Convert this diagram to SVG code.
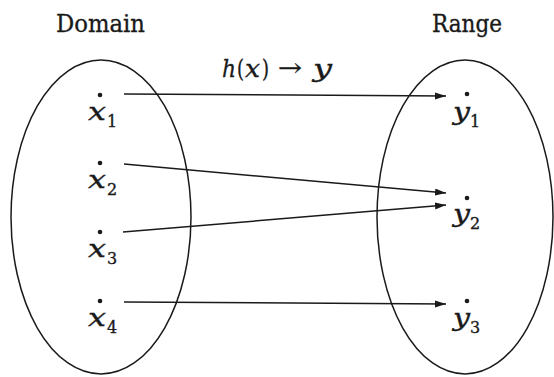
<svg xmlns="http://www.w3.org/2000/svg" width="554" height="377" viewBox="0 0 554 377">
<style>
text{fill:#1a1a1a;stroke:#1a1a1a;stroke-width:0.35}
.title{font-size:25px}
.v{font-size:24px;font-style:italic}
.up{font-size:24px}
.sub{font-size:16px}
.dot{fill:#1a1a1a}
.set{fill:none;stroke:#1a1a1a;stroke-width:1.5}
.edge{stroke:#1a1a1a;stroke-width:1.5;fill:none;marker-end:url(#ah)}
</style>
<defs>
<marker id="ah" markerUnits="userSpaceOnUse" markerWidth="12" markerHeight="8" refX="11" refY="3.5" orient="auto">
<path d="M0,0 L11,3.5 L0,7 z" fill="#1a1a1a"/>
</marker>
</defs>
<rect width="554" height="377" fill="#ffffff"/>
<g font-family="DejaVu Serif, Liberation Serif, serif">
<g id="domain">
<ellipse class="set" cx="101" cy="217" rx="90" ry="157"/>
<text class="title" x="56" y="32" textLength="89" lengthAdjust="spacingAndGlyphs">Domain</text>
</g>
<g id="range">
<ellipse class="set" cx="465" cy="217" rx="88" ry="157"/>
<text class="title" x="432" y="32" textLength="70" lengthAdjust="spacingAndGlyphs">Range</text>
</g>
<g id="label-h">
<text class="v" x="222" y="77" textLength="14" lengthAdjust="spacingAndGlyphs">h</text>
<text class="up" x="237" y="77" textLength="7" lengthAdjust="spacingAndGlyphs">(</text>
<text class="v" x="245" y="77" textLength="15" lengthAdjust="spacingAndGlyphs">x</text>
<text class="up" x="262" y="77" textLength="7" lengthAdjust="spacingAndGlyphs">)</text>
<text x="278" y="76" font-size="24" textLength="24" lengthAdjust="spacingAndGlyphs" stroke-width="0">→</text>
<text class="v" x="313" y="77" textLength="19" lengthAdjust="spacingAndGlyphs">y</text>
</g>
<g id="x1"><circle class="dot" cx="100" cy="95" r="2.3"/><text class="v" x="88" y="120" textLength="18" lengthAdjust="spacingAndGlyphs">x</text><text class="sub" x="107" y="127">1</text></g>
<g id="x2"><circle class="dot" cx="100" cy="163" r="2.3"/><text class="v" x="88" y="188" textLength="18" lengthAdjust="spacingAndGlyphs">x</text><text class="sub" x="107" y="195">2</text></g>
<g id="x3"><circle class="dot" cx="100" cy="232" r="2.3"/><text class="v" x="88" y="257" textLength="18" lengthAdjust="spacingAndGlyphs">x</text><text class="sub" x="107" y="264">3</text></g>
<g id="x4"><circle class="dot" cx="100" cy="301" r="2.3"/><text class="v" x="88" y="326" textLength="18" lengthAdjust="spacingAndGlyphs">x</text><text class="sub" x="107" y="333">4</text></g>
<g id="y1"><circle class="dot" cx="467" cy="94" r="2.3"/><text class="v" x="453" y="120" textLength="17" lengthAdjust="spacingAndGlyphs">y</text><text class="sub" x="470" y="127">1</text></g>
<g id="y2"><circle class="dot" cx="467" cy="198" r="2.3"/><text class="v" x="453" y="222" textLength="17" lengthAdjust="spacingAndGlyphs">y</text><text class="sub" x="470" y="229">2</text></g>
<g id="y3"><circle class="dot" cx="467" cy="301" r="2.3"/><text class="v" x="453" y="326" textLength="17" lengthAdjust="spacingAndGlyphs">y</text><text class="sub" x="470" y="333">3</text></g>
</g>
<g id="connectors">
<line class="edge" x1="124" y1="94" x2="446" y2="96"/>
<line class="edge" x1="124" y1="164" x2="446" y2="193"/>
<line class="edge" x1="123" y1="232" x2="446" y2="205"/>
<line class="edge" x1="124" y1="302" x2="446" y2="304"/>
</g>
</svg>
